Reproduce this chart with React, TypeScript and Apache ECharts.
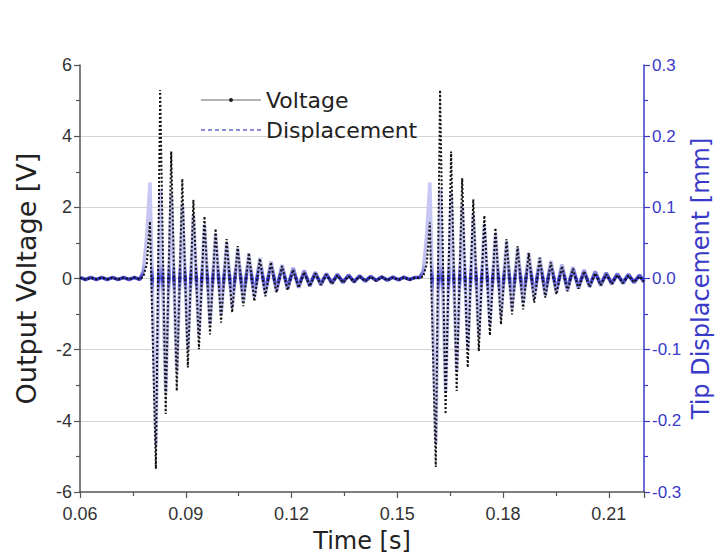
import React, { useEffect, useRef } from "react";
import * as echarts from "echarts";

// Burst 1 (times in s)
const time1 = [
  0.06, 0.06154, 0.06309, 0.06463, 0.06618, 0.06772, 0.06926, 0.07081, 0.07235, 0.07389, 0.07544, 0.07698,
  0.07796, 0.07895, 0.07985, 0.08153,
  0.08274, 0.08431, 0.08588, 0.08745, 0.08902, 0.0906, 0.09217, 0.09374, 0.09531, 0.09688, 0.09846, 0.10003,
  0.1016, 0.10317, 0.10474, 0.10632, 0.10789, 0.10946, 0.11103, 0.1126, 0.11418, 0.11575, 0.11732, 0.11889,
  0.12046,
  0.12203, 0.1236, 0.12518, 0.12675, 0.12832, 0.12989, 0.13146, 0.13304, 0.13461, 0.13618, 0.13775, 0.13932,
  0.1409, 0.14247, 0.14404, 0.14561, 0.14718, 0.14876, 0.15033, 0.1519, 0.15347, 0.15504,
];
const voltage1 = [
  0.02, -0.03, 0.02, -0.02, 0.03, -0.02, 0.02, -0.03, 0.02, -0.02, 0.03, -0.02,
  0.05, 0.4, 1.6, -5.35,
  5.3, -3.81, 3.57, -3.16, 2.8, -2.5, 2.21, -1.99, 1.75, -1.57, 1.4, -1.24,
  1.11, -0.95, 0.91, -0.78, 0.72, -0.64, 0.56, -0.5, 0.46, -0.4, 0.35, -0.33,
  0.25,
  -0.26, 0.18, -0.22, 0.14, -0.18, 0.11, -0.15, 0.09, -0.12, 0.07, -0.1, 0.06,
  -0.08, 0.05, -0.07, 0.04, -0.06, 0.03, -0.05, 0.03, -0.04, 0.02,
];
const displacement1 = [
  0.0015, -0.0015, 0.0015, -0.0015, 0.0015, -0.0015, 0.0015, -0.0015, 0.0015, -0.0015, 0.0015, -0.0015,
  0.01, 0.06, 0.135, -0.235,
  0.125, -0.16, 0.12, -0.13, 0.105, -0.1, 0.09, -0.08, 0.076, -0.064, 0.063, -0.051,
  0.051, -0.041, 0.042, -0.033, 0.035, -0.027, 0.029, -0.022, 0.024, -0.018, 0.019, -0.015,
  0.015,
  -0.013, 0.011, -0.011, 0.009, -0.009, 0.007, -0.007, 0.006, -0.006, 0.005, -0.005, 0.004,
  -0.004, 0.003, -0.003, 0.0025, -0.0025, 0.002, -0.002, 0.002, -0.0015, 0.0015,
];

// Burst 2
const time2 = [
  0.15638, 0.15736, 0.15835, 0.15925, 0.16093,
  0.16214, 0.16371, 0.16528, 0.16685, 0.16842, 0.17, 0.17157, 0.17314, 0.17471, 0.17628, 0.17786, 0.17943,
  0.181, 0.18257, 0.18414, 0.18572, 0.18729, 0.18886, 0.19043, 0.192, 0.19358, 0.19515, 0.19672, 0.19829,
  0.19986,
  0.20143, 0.203, 0.20458, 0.20615, 0.20772, 0.20929, 0.21086, 0.21244, 0.21401, 0.21558, 0.21715, 0.21872,
  0.22,
];
const voltage2 = [
  0.02, 0.05, 0.4, 1.57, -5.3,
  5.3, -3.81, 3.57, -3.16, 2.82, -2.5, 2.23, -2.04, 1.77, -1.6, 1.42, -1.29,
  1.11, -1.01, 0.91, -0.87, 0.72, -0.68, 0.58, -0.54, 0.46, -0.45, 0.35, -0.36,
  0.27,
  -0.29, 0.2, -0.24, 0.15, -0.19, 0.12, -0.16, 0.1, -0.13, 0.08, -0.11, 0.06,
  -0.09,
];
const displacement2 = [
  0.0015, 0.01, 0.06, 0.135, -0.232,
  0.125, -0.16, 0.12, -0.13, 0.105, -0.1, 0.09, -0.082, 0.077, -0.066, 0.064, -0.053,
  0.052, -0.043, 0.043, -0.035, 0.036, -0.029, 0.03, -0.024, 0.025, -0.02, 0.02, -0.017,
  0.016,
  -0.014, 0.012, -0.012, 0.01, -0.01, 0.008, -0.008, 0.007, -0.007, 0.006, -0.006, 0.005,
  -0.005,
];

const xTicks = { min: 0.06, max: 0.22, step: 0.03 };
const voltTicks = { min: -6, max: 6, step: 2 };
const dispTicks = { min: -0.3, max: 0.3, step: 0.1 };

const FONT = "DejaVu Sans";
const TICK_FONT = "Liberation Sans";
const BLUE = "#3a3ac8";
const W = 721;
const H = 558;

export default function App() {
  const ref = useRef<HTMLDivElement>(null);
  useEffect(() => {
    document.body.style.margin = "0";
    document.documentElement.style.overflow = "hidden";
    document.body.style.overflow = "hidden";
    const chart = echarts.init(ref.current!, null, { renderer: "svg", width: W, height: H });
    const times = time1.concat(time2);
    const volts = voltage1.concat(voltage2);
    const disps = displacement1.concat(displacement2);
    const voltData = times.map((t, i) => [t, volts[i]]);
    const dispData = times.map((t, i) => [t, disps[i]]);

    chart.setOption({
      animation: false,
      backgroundColor: "#ffffff",
      textStyle: { fontFamily: FONT },
      grid: { left: 80, right: 71, top: 65, bottom: 65 },
      legend: {
        orient: "vertical",
        left: 195,
        top: 84,
        itemWidth: 60,
        itemHeight: 5,
        itemGap: 8,
        textStyle: { fontSize: 22, color: "#222", fontFamily: FONT, lineHeight: 22 },
        data: [
          {
            name: "Voltage",
            lineStyle: { type: "solid", color: "#666", width: 1 },
            itemStyle: { color: "#222" },
          },
          {
            name: "Displacement",
            lineStyle: { type: [4, 3], color: "#8c8cdc", width: 2 },
            itemStyle: { opacity: 0 },
          },
        ],
      },
      xAxis: {
        type: "value",
        min: xTicks.min,
        max: xTicks.max,
        interval: xTicks.step,
        name: "Time [s]",
        nameLocation: "middle",
        nameGap: 37,
        nameMoveOverlap: false,
        nameTextStyle: { fontSize: 24, color: "#222", fontFamily: FONT },
        axisLine: { show: true, onZero: false, lineStyle: { color: "#555", width: 1.5 } },
        axisTick: { show: true, length: 6, lineStyle: { color: "#555", width: 1.2 } },
        minorTick: { show: true, splitNumber: 2, length: 4, lineStyle: { color: "#555", width: 1.2 } },
        axisLabel: {
          fontSize: 18,
          fontFamily: TICK_FONT,
          color: "#333",
          margin: 13,
          showMaxLabel: false,
          formatter: (v: number) => v.toFixed(2),
        },
        splitLine: { show: false },
      },
      yAxis: [
        {
          type: "value",
          position: "left",
          min: voltTicks.min,
          max: voltTicks.max,
          interval: voltTicks.step,
          name: "Output Voltage [V]",
          nameLocation: "middle",
          nameRotate: 90,
          nameGap: 40,
          nameMoveOverlap: false,
          nameTextStyle: { fontSize: 27, color: "#222", fontFamily: FONT },
          axisLine: { show: true, onZero: false, lineStyle: { color: "#555", width: 1.5 } },
          axisTick: { show: true, length: 6, lineStyle: { color: "#555", width: 1.2 } },
          minorTick: { show: true, splitNumber: 2, length: 4, lineStyle: { color: "#555", width: 1.2 } },
          axisLabel: { fontSize: 18, fontFamily: TICK_FONT, color: "#333", margin: 8 },
          splitLine: {
            show: true,
            showMinLine: false,
            showMaxLine: false,
            lineStyle: { color: "#d4d4d4", width: 1 },
          },
        },
        {
          type: "value",
          position: "right",
          min: dispTicks.min,
          max: dispTicks.max,
          interval: dispTicks.step,
          name: "Tip Displacement [mm]",
          nameLocation: "middle",
          nameRotate: 90,
          nameGap: 45,
          nameMoveOverlap: false,
          nameTextStyle: { fontSize: 24, color: BLUE, fontFamily: FONT },
          axisLine: { show: true, onZero: false, lineStyle: { color: BLUE, width: 1.5 } },
          axisTick: { show: true, length: 6, lineStyle: { color: BLUE, width: 1.2 } },
          minorTick: { show: true, splitNumber: 2, length: 4, lineStyle: { color: BLUE, width: 1.2 } },
          axisLabel: {
            fontSize: 17,
            fontFamily: TICK_FONT,
            color: BLUE,
            margin: 8,
            formatter: (v: number) => v.toFixed(1),
          },
          splitLine: { show: false },
        },
      ],
      series: [
        {
          name: "Displacement",
          type: "line",
          yAxisIndex: 1,
          data: dispData,
          showSymbol: false,
          symbol: "none",
          z: 2,
          lineStyle: {
            width: 3.6,
            color: {
              type: "linear",
              x: 0,
              y: 0,
              x2: 0,
              y2: 1,
              colorStops: [
                { offset: 0, color: "#cacaf4" },
                { offset: 0.31, color: "#c0c0f0" },
                { offset: 0.345, color: "#7a7adc" },
                { offset: 0.365, color: "#2b2bbf" },
                { offset: 0.385, color: "#7a7adc" },
                { offset: 0.42, color: "#c0c0f0" },
                { offset: 1, color: "#cacaf4" },
              ],
            },
          },
        },
        {
          name: "Voltage",
          type: "line",
          yAxisIndex: 0,
          data: voltData,
          showSymbol: false,
          symbol: "circle",
          symbolSize: 3,
          z: 3,
          itemStyle: { color: "#111" },
          lineStyle: { width: 2, color: "#111", type: [2, 2] },
        },
      ],
    });
    return () => chart.dispose();
  }, []);
  return (
    <div
      ref={ref}
      style={{ position: "fixed", left: 0, top: 0, width: W, height: H, overflow: "hidden" }}
    />
  );
}
